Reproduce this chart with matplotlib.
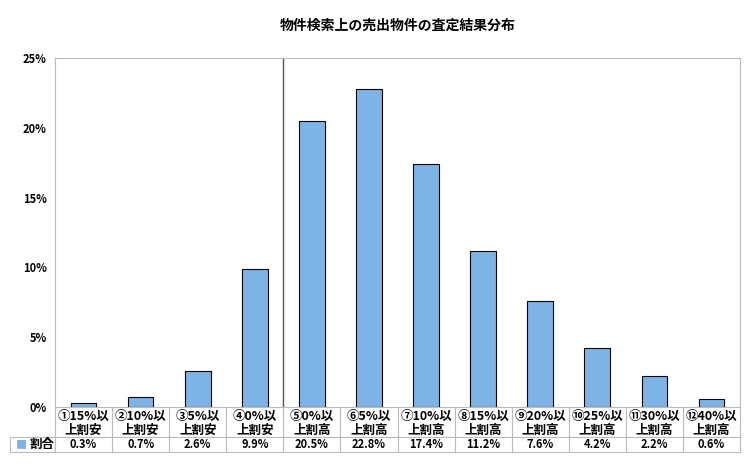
import matplotlib.pyplot as plt
import numpy as np

plt.rcParams['font.family'] = 'Noto Sans CJK JP'

categories = ['①15%以\n上割安', '②10%以\n上割安', '③5%以\n上割安', '④0%以\n上割安',
              '⑤0%以\n上割高', '⑥5%以\n上割高', '⑦10%以\n上割高', '⑧15%以\n上割高',
              '⑨20%以\n上割高', '⑩25%以\n上割高', '⑪30%以\n上割高', '⑫40%以\n上割高']
values = [0.3, 0.7, 2.6, 9.9, 20.5, 22.8, 17.4, 11.2, 7.6, 4.2, 2.2, 0.6]
yticks = [0, 5, 10, 15, 20, 25]

fig = plt.figure(figsize=(7.5, 4.67), dpi=100)
ax = fig.add_axes([55/750, 1-407/467, 685/750, 349/467])
x = np.arange(len(values))
ax.bar(x, values, width=0.45, color='#7eb3e6', edgecolor='black', linewidth=0.8)
ax.set_xlim(-0.5, len(values)-0.5)
ax.set_ylim(0, 25)
ax.set_yticks(yticks)
ax.set_yticklabels([f'{t}%' for t in yticks], fontsize=8, fontweight='bold')
ax.tick_params(axis='y', length=0, pad=6)
ax.set_xticks(x)
ax.set_xticklabels(categories, fontsize=9, fontweight='bold', linespacing=1.1)
ax.tick_params(axis='x', length=0, pad=2)
for s in ax.spines.values():
    s.set_color('#bbbbbb')
ax.axvline(3.5, color='#555555', lw=1)
ax.set_title('物件検索上の売出物件の査定結果分布', fontsize=10, fontweight='bold', pad=20)

tr = ax.get_xaxis_transform()
for i, v in enumerate(values):
    ax.text(i, -0.108, f'{v}%', transform=tr, ha='center', va='center', fontsize=8, fontweight='bold')
for b in np.arange(-0.5, len(values)):
    ax.plot([b, b], [0, -0.129], transform=tr, color='#bbbbbb', lw=0.8, clip_on=False)
ax.plot([-0.5 - 0.066*12, len(values)-0.5], [-0.086, -0.086], transform=tr, color='#bbbbbb', lw=0.8, clip_on=False)
ax.plot([-0.5 - 0.066*12, len(values)-0.5], [-0.129, -0.129], transform=tr, color='#bbbbbb', lw=0.8, clip_on=False)
ax.plot([-0.5 - 0.066*12]*2, [-0.086, -0.129], transform=tr, color='#bbbbbb', lw=0.8, clip_on=False)
ax.text(-0.5 - 0.066*12 + 0.1, -0.108, '■', transform=tr, ha='left', va='center', fontsize=8, color='#7eb3e6')
ax.text(-0.5 - 0.066*12 + 0.35, -0.108, '割合', transform=tr, ha='left', va='center', fontsize=9, fontweight='bold')

fig.savefig('out.png', dpi=100)
